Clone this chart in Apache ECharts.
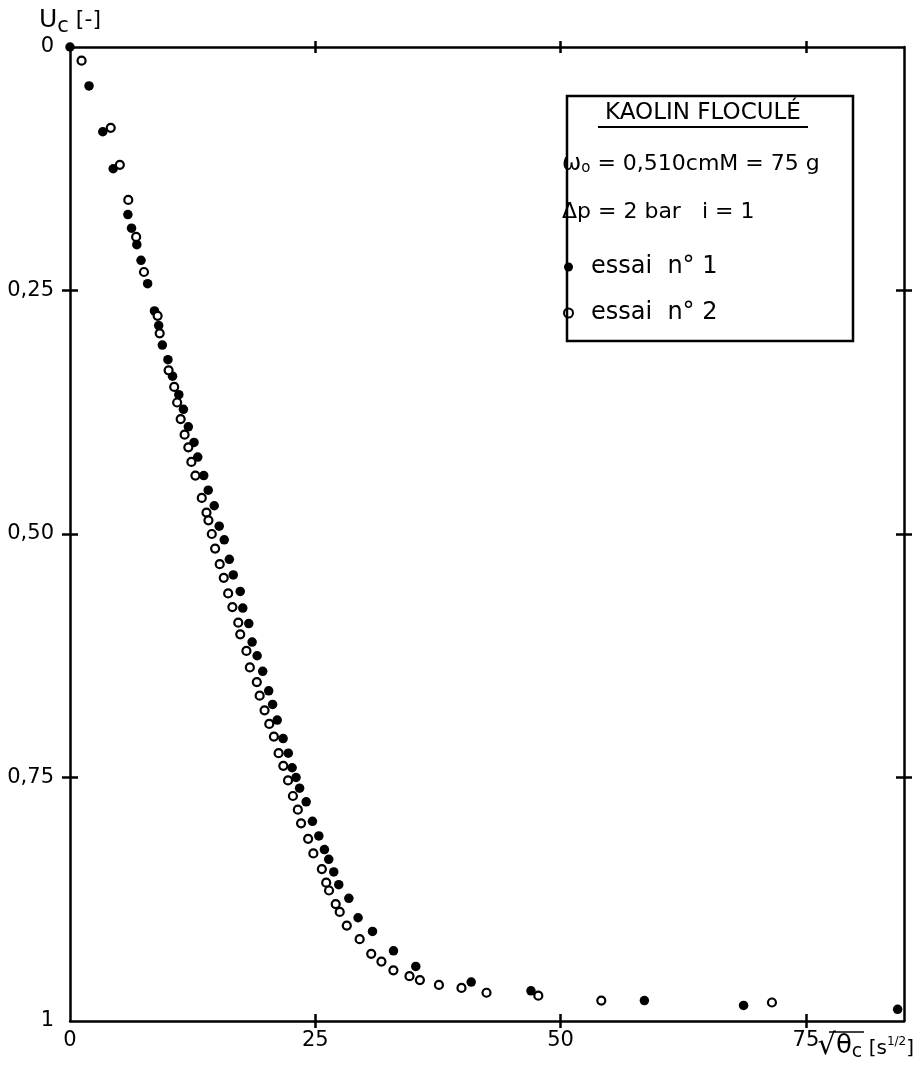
<!DOCTYPE html>
<html>
<head>
<meta charset="utf-8">
<script src="https://cdn.jsdelivr.net/npm/echarts@6/dist/echarts.min.js"></script>
<style>html,body{margin:0;padding:0;background:#fff}#chart{width:918px;height:1071px}</style>
</head>
<body>
<div id="chart"></div>
<script>
// ---- data ----
const essai1 = [
  [0,0],[1.94,0.040],[3.34,0.087],[4.40,0.125],[5.90,0.172],[6.27,0.186],[6.81,0.203],
  [7.24,0.219],[7.91,0.243],[8.61,0.271],[9.04,0.286],[9.41,0.306],[9.98,0.321],[10.45,0.338],
  [11.09,0.357],[11.56,0.372],[12.06,0.390],[12.64,0.406],[13.02,0.421],[13.63,0.440],
  [14.09,0.455],[14.70,0.471],[15.21,0.492],[15.72,0.506],[16.24,0.526],[16.64,0.542],
  [17.35,0.559],[17.61,0.576],[18.22,0.592],[18.56,0.611],[19.07,0.625],[19.64,0.641],
  [20.25,0.661],[20.65,0.675],[21.12,0.691],[21.72,0.710],[22.25,0.725],[22.64,0.740],
  [23.04,0.750],[23.40,0.761],[24.07,0.775],[24.71,0.795],[25.36,0.810],[25.93,0.824],
  [26.37,0.834],[26.88,0.847],[27.39,0.860],[28.42,0.874],[29.36,0.894],[30.83,0.908],
  [32.97,0.928],[35.24,0.944],[40.89,0.960],[46.98,0.969],[58.54,0.979],[68.65,0.984],
  [84.35,0.988]
];
const essai2 = [
  [1.18,0.014],[4.15,0.083],[5.08,0.121],[5.94,0.157],[6.74,0.195],[7.54,0.231],[8.93,0.276],
  [9.14,0.294],[10.05,0.332],[10.62,0.349],[10.92,0.365],[11.28,0.382],[11.68,0.398],
  [12.06,0.411],[12.37,0.426],[12.78,0.440],[13.43,0.463],[13.91,0.478],[14.11,0.486],
  [14.45,0.500],[14.79,0.515],[15.26,0.531],[15.67,0.545],[16.12,0.561],[16.55,0.575],
  [17.15,0.591],[17.35,0.603],[17.98,0.620],[18.33,0.637],[19.04,0.652],[19.33,0.666],
  [19.83,0.681],[20.31,0.695],[20.78,0.708],[21.26,0.725],[21.74,0.738],[22.22,0.753],
  [22.72,0.769],[23.22,0.783],[23.55,0.797],[24.27,0.813],[24.80,0.828],[25.67,0.844],
  [26.11,0.858],[26.40,0.866],[27.08,0.880],[27.49,0.888],[28.21,0.902],[29.52,0.916],
  [30.70,0.931],[31.74,0.939],[32.96,0.948],[34.60,0.954],[35.66,0.958],[37.60,0.963],
  [39.90,0.966],[42.45,0.971],[47.73,0.974],[54.15,0.979],[71.54,0.981]
];
const xTickValues = [0, 25, 50, 75];
const xTickLabels = ['0', '25', '50', '75'];
const yTickValues = [0, 0.25, 0.5, 0.75, 1];
const yTickLabels = ['0', '0,25', '0,50', '0,75', '1'];
const seriesNames = ['essai  n° 1', 'essai  n° 2'];
const boxTitle = 'KAOLIN FLOCULÉ';
const X_MIN = 0, X_MAX = 85, Y_MIN = 0, Y_MAX = 1;

// ---- chart ----
const FONT = 'DejaVu Sans';
const INK = '#000';
const chart = echarts.init(document.getElementById('chart'), null, {renderer: 'canvas'});
const lineStyle = {color: INK, width: 2.5};
const xInner = xTickValues.filter(v => v > X_MIN);
const yInner = yTickValues.filter(v => v > Y_MIN && v < Y_MAX);

function xAx(position, inside, main, len) {
  return {
    type: 'value', position, min: X_MIN, max: X_MAX, interval: 25,
    axisLine: {show: !inside, onZero: false, lineStyle},
    axisTick: {show: true, inside, length: len, customValues: xInner, lineStyle: {color: INK, width: 2.5}},
    splitLine: {show: false},
    axisLabel: main ? {
      show: true, customValues: xTickValues, margin: 9,
      formatter: v => xTickLabels[xTickValues.indexOf(v)],
      color: INK, fontFamily: FONT, fontSize: 21
    } : {show: false}
  };
}
function yAx(position, inside, main, len) {
  return {
    type: 'value', position, min: Y_MIN, max: Y_MAX, inverse: true,
    axisLine: {show: !inside, onZero: false, lineStyle},
    axisTick: {show: true, inside, length: len, customValues: yInner, lineStyle: {color: INK, width: 2.5}},
    splitLine: {show: false},
    axisLabel: main ? {
      show: true, customValues: yTickValues, margin: 16,
      formatter: v => yTickLabels[yTickValues.indexOf(v)],
      color: INK, fontFamily: FONT, fontSize: 21
    } : {show: false},
    name: main ? '{u|U}{s|c}{b| [-]}' : '',
    nameLocation: 'start', nameGap: 10,
    nameTextStyle: main ? {
      align: 'center', verticalAlign: 'bottom', padding: [0, 0, 0, 0],
      rich: {
        u: {fontFamily: FONT, fontSize: 25, color: INK},
        s: {fontFamily: FONT, fontSize: 21, color: INK, padding: [12, 0, 0, 0]},
        b: {fontFamily: FONT, fontSize: 22, color: INK}
      }
    } : {}
  };
}

const option = {
  backgroundColor: '#fff',
  animation: false,
  grid: {left: 70, right: 14, top: 47, bottom: 50, containLabel: false, outerBoundsMode: 'none'},
  xAxis: [
    xAx('bottom', false, true, 7),
    xAx('bottom', true, false, 7),
    xAx('top', false, false, 6),
    xAx('top', true, false, 6)
  ],
  yAxis: [
    yAx('left', false, true, 8),
    yAx('left', true, false, 8),
    yAx('right', false, false, 8),
    yAx('right', true, false, 8)
  ],
  legend: {
    show: true, orient: 'vertical', left: 558, top: 250,
    itemWidth: 9, itemHeight: 9, itemGap: 22, icon: 'circle',
    data: seriesNames,
    textStyle: {fontFamily: FONT, fontSize: 24, color: INK, lineHeight: 24, padding: [0, 0, 0, 13]}
  },
  graphic: [
    {type: 'rect', shape: {x: 567, y: 96, width: 286, height: 245},
     style: {fill: 'none', stroke: INK, lineWidth: 2.5}, z: 10},
    {type: 'text', x: 703, y: 113, z: 10,
     style: {text: boxTitle, font: '23px "' + FONT + '"', fill: INK, align: 'center', verticalAlign: 'middle'}},
    {type: 'line', shape: {x1: 598, y1: 127, x2: 808, y2: 127}, style: {stroke: INK, lineWidth: 2}, z: 10},
    {type: 'text', x: 562, y: 164, z: 10,
     style: {
       text: '{w|ω}{o|o}{t| = 0,510cmM = 75 g}', align: 'left', verticalAlign: 'middle',
       rich: {
         w: {fontFamily: FONT, fontSize: 23, fill: INK},
         o: {fontFamily: FONT, fontSize: 15, fill: INK, padding: [8, 0, 0, 0]},
         t: {fontFamily: FONT, fontSize: 22, fill: INK}
       }
     }},
    {type: 'text', x: 562, y: 212, z: 10,
     style: {text: 'Δp = 2 bar   i = 1', font: '22px "' + FONT + '"', fill: INK, align: 'left', verticalAlign: 'middle'}},
    // x-axis name
    {type: 'text', x: 914, y: 1046, z: 10,
     style: {
       text: '{r|√}{t|θ}{s|c}{b| [s}{p|1/2}{b|]}', align: 'right', verticalAlign: 'middle',
       rich: {
         r: {fontFamily: FONT, fontSize: 29, fill: INK},
         t: {fontFamily: FONT, fontSize: 26, fill: INK},
         s: {fontFamily: FONT, fontSize: 19, fill: INK, padding: [12, 0, 0, 0]},
         b: {fontFamily: FONT, fontSize: 20, fill: INK, padding: [6, 0, 0, 0]},
         p: {fontFamily: FONT, fontSize: 12, fill: INK, padding: [0, 0, 8, 0]}
       }
     }},
    // radical sign overbar of the x-axis name
    {type: 'line', shape: {x1: 829, y1: 1032, x2: 864, y2: 1032}, style: {stroke: INK, lineWidth: 1.6}, z: 10}
  ],
  series: [
    {
      name: seriesNames[0], type: 'scatter', xAxisIndex: 0, yAxisIndex: 0,
      data: essai1, symbol: 'circle', symbolSize: 9.5,
      itemStyle: {color: INK, borderColor: INK, borderWidth: 0, opacity: 1}, z: 3
    },
    {
      name: seriesNames[1], type: 'scatter', xAxisIndex: 0, yAxisIndex: 0,
      data: essai2, symbol: 'circle', symbolSize: 8,
      itemStyle: {color: '#fff', borderColor: INK, borderWidth: 2.2, opacity: 1}, z: 4
    }
  ]
};
chart.setOption(option);
</script>
</body>
</html>
